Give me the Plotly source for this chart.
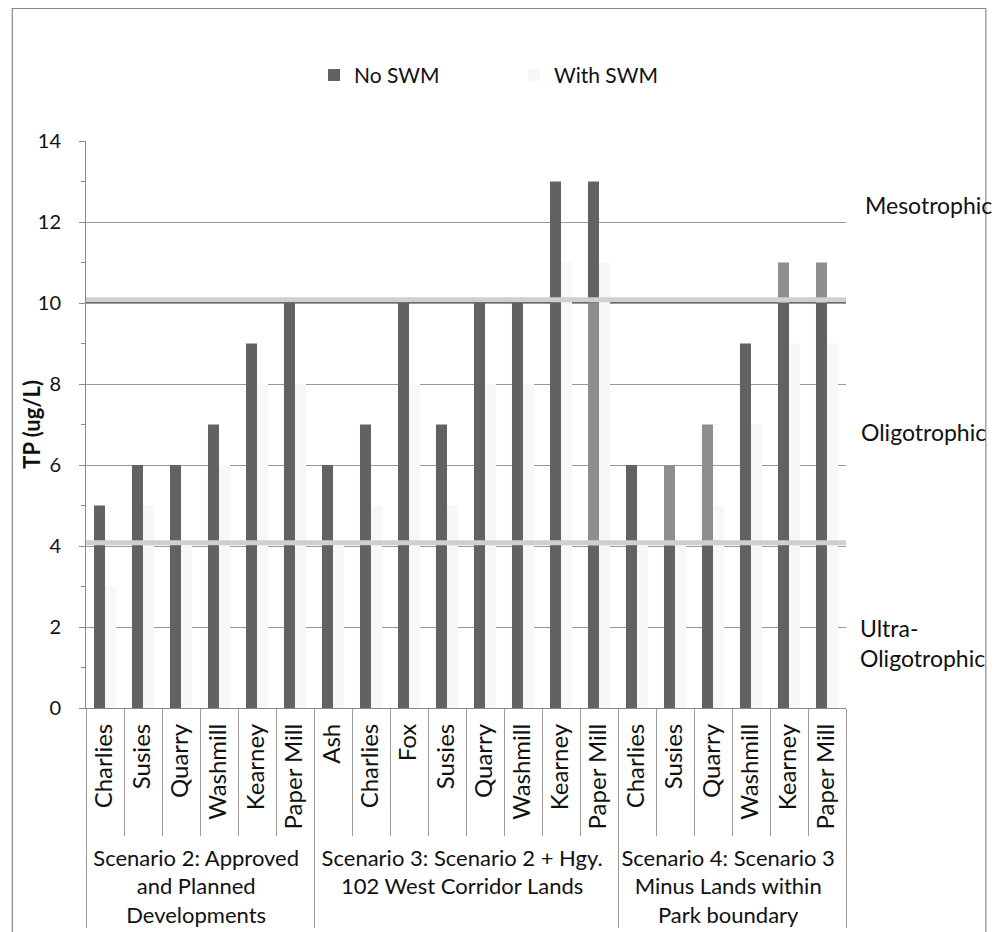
import plotly.graph_objects as go

scenarios = [
    "Scenario 2: Approved<br>and Planned<br>Developments",
    "Scenario 3: Scenario 2 + Hgy.<br>102 West Corridor Lands",
    "Scenario 4: Scenario 3<br>Minus Lands within<br>Park boundary",
]
lakes_s2 = ["Charlies", "Susies", "Quarry", "Washmill", "Kearney", "Paper Mill"]
lakes_s3 = ["Ash", "Charlies", "Fox", "Susies", "Quarry", "Washmill", "Kearney", "Paper Mill"]
lakes_s4 = ["Charlies", "Susies", "Quarry", "Washmill", "Kearney", "Paper Mill"]

no_swm_s2 = [5, 6, 6, 7, 9, 10]
no_swm_s3 = [6, 7, 10, 7, 10, 10, 13, 13]
no_swm_s4 = [6, 6, 7, 9, 11, 11]

with_swm_s2 = [3, 5, 4, 6, 8, 8]
with_swm_s3 = [4, 5, 8, 5, 8, 8, 11, 11]
with_swm_s4 = [4, 4, 5, 7, 9, 9]

# scan-faded portions of the No SWM bars (segment 4-10 and segment above 10)
faded_mid = [False]*6 + [False]*7 + [True] + [False, True, True, False, False, False]
faded_top = [False]*6 + [False]*8 + [False, False, False, False, True, True]

y_ticks = [0, 2, 4, 6, 8, 10, 12, 14]
thresholds = [4, 10]
zones = ["Mesotrophic", "Oligotrophic", "Ultra-<br>Oligotrophic"]

# inner labels: larger font; the size string differs per scenario only so that
# repeated lake names stay distinct categories (and keep their order)
SIZE_KEYS = ["24px", "24.0px", "24.00px"]


def big(label, g):
    return '<span style="font-size:%s">%s</span>' % (SIZE_KEYS[g], label)


outer = [scenarios[0]]*len(lakes_s2) + [scenarios[1]]*len(lakes_s3) + [scenarios[2]]*len(lakes_s4)
inner = ([big(n, 0) for n in lakes_s2] + [big(n, 1) for n in lakes_s3]
         + [big(n, 2) for n in lakes_s4])
no_swm = no_swm_s2 + no_swm_s3 + no_swm_s4
with_swm = with_swm_s2 + with_swm_s3 + with_swm_s4
x = [outer, inner]

DARK = "#626262"
FADE = "#8e8e8e"
WHITEISH = "#f7f7f7"
FONT = "Lato"

lo, hi = thresholds
seg1 = [min(v, lo) for v in no_swm]
seg2 = [max(0, min(v, hi) - lo) for v in no_swm]
seg3 = [max(0, v - hi) for v in no_swm]

fig = go.Figure()
fig.add_trace(go.Bar(x=x, y=seg1, base=[0]*len(no_swm), name="No SWM", marker_color=DARK,
                     offsetgroup="a", legendgroup="a", marker_line_width=0))
fig.add_trace(go.Bar(x=x, y=seg2, base=[lo]*len(no_swm), name="No SWM", showlegend=False,
                     marker_color=[FADE if f else DARK for f in faded_mid],
                     offsetgroup="a", legendgroup="a", marker_line_width=0))
fig.add_trace(go.Bar(x=x, y=seg3, base=[hi]*len(no_swm), name="No SWM", showlegend=False,
                     marker_color=[FADE if f else DARK for f in faded_top],
                     offsetgroup="a", legendgroup="a", marker_line_width=0))
fig.add_trace(go.Bar(x=x, y=with_swm, name="With SWM", marker_color=WHITEISH,
                     offsetgroup="b", marker_line_width=0))

# threshold lines
fig.add_shape(type="line", xref="paper", x0=0, x1=1, yref="y", y0=hi, y1=hi,
              line=dict(color="#4a4a4a", width=2), layer="below")
for t in thresholds:
    fig.add_shape(type="line", xref="paper", x0=0, x1=1, yref="y", y0=t + 0.08, y1=t + 0.08,
                  line=dict(color="#cfcfcf", width=5), layer="above")

# outer chart border
fig.add_shape(type="rect", xref="paper", yref="paper", x0=-0.097, x1=1.184, y0=-0.42, y1=1.234,
              line=dict(color="#8a8a8a", width=1.2), fillcolor="rgba(0,0,0,0)")

# zone labels
zone_pos = [(1.023, 0.887), (1.017, 0.487), (1.016, 0.114)]
for z, (zx, zy) in zip(zones, zone_pos):
    fig.add_annotation(text=z, xref="paper", yref="paper", x=zx, y=zy, xanchor="left",
                       yanchor="middle", align="left", showarrow=False,
                       font=dict(family=FONT, size=23, color="#111"))

fig.add_annotation(text="<b>TP (ug/L)</b>", xref="paper", yref="paper", x=-0.072, y=0.5,
                   textangle=-90, showarrow=False, xanchor="center", yanchor="middle",
                   font=dict(family=FONT, size=22, color="#111"))

fig.update_layout(
    width=993, height=924,
    margin=dict(l=78, r=155, t=133, b=224),
    paper_bgcolor="white", plot_bgcolor="white",
    barmode="group", bargap=0.42, bargroupgap=0,
    font=dict(family=FONT, size=18, color="#111"),
    legend=dict(orientation="h", x=0.30, y=1.116, xanchor="left", yanchor="middle",
                entrywidth=155, entrywidthmode="pixels", font=dict(size=21),
                traceorder="normal"),
    showlegend=True,
)
fig.update_yaxes(range=[0, 14], tickvals=y_ticks, showgrid=True, gridcolor="#9a9a9a", gridwidth=1,
                 showline=True, linecolor="#8a8a8a", ticks="outside", ticklen=6, tickcolor="#8a8a8a",
                 minor=dict(dtick=1, ticks="outside", ticklen=4, tickcolor="#8a8a8a", showgrid=False),
                 tickfont=dict(size=20, color="#111"), zeroline=False, ticklabelstandoff=14,
                 automargin=False)
fig.update_xaxes(type="multicategory", tickangle=-90, showline=True, linecolor="#8a8a8a",
                 ticks="outside", tickson="boundaries", ticklen=127, tickcolor="#9a9a9a",
                 showdividers=True, dividercolor="#9a9a9a", dividerwidth=1, ticklabelstandoff=6,
                 tickfont=dict(size=22, color="#111"), automargin=False)

fig.write_html("out.html")
